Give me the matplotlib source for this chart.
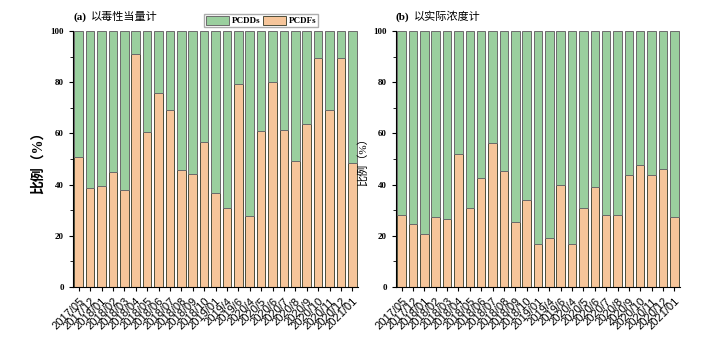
import numpy as np
import matplotlib.pyplot as plt
from matplotlib.ticker import MultipleLocator

# sampling months
dates = ['2017/05', '2017/12', '2018/01', '2018/02', '2018/03', '2018/04', '2018/05',
         '2018/06', '2018/07', '2018/08', '2018/09', '2018/10', '2019/01', '2019/4',
         '2019/6', '2020/4', '2020/5', '2020/6', '2020/7', '2020/8', '2020/9',
         '2020/10', '2020/11', '2020/12', '2021/01']

# PCDFs share (%), (a) by TEQ, (b) by actual concentration
pcdfs_teq = [50.8, 38.5, 39.3, 44.8, 38.0, 91.1, 60.7, 76.0, 69.1, 45.7, 44.1, 56.6, 36.6,
             30.7, 79.2, 27.6, 60.8, 80.1, 61.3, 49.1, 63.7, 89.3, 69.1, 89.3, 48.6]
pcdfs_conc = [28.0, 24.7, 20.8, 27.4, 26.6, 52.0, 30.7, 42.5, 56.1, 45.3, 25.5, 33.9, 16.9,
              19.1, 39.9, 16.6, 30.8, 39.0, 28.1, 28.3, 43.8, 47.8, 43.8, 46.0, 27.4]

green = '#9acf9e'
orange = '#f6c59a'
cjk = ['Liberation Serif', 'Noto Sans CJK SC']

fig = plt.figure(figsize=(7.09, 3.38), dpi=100)
ax_a = fig.add_axes([0.103, 0.151, 0.402, 0.757])
ax_b = fig.add_axes([0.5585, 0.151, 0.4006, 0.757])

x = np.arange(len(dates))
panels = [(ax_a, pcdfs_teq, '以毒性当量计', '(a)', True),
          (ax_b, pcdfs_conc, '以实际浓度计', '(b)', False)]

for ax, vals, title, tag, bold in panels:
    vals = np.array(vals)
    b1 = ax.bar(x, vals, 0.75, color=orange, edgecolor='#4d4d3a', linewidth=0.7, label='PCDFs')
    b2 = ax.bar(x, 100 - vals, 0.75, bottom=vals, color=green, edgecolor='#6b6b6b',
                linewidth=0.7, label='PCDDs')
    ax.set_xlim(-0.5, len(dates) - 0.5)
    ax.set_ylim(0, 100)
    ax.yaxis.set_major_locator(MultipleLocator(20))
    ax.yaxis.set_minor_locator(MultipleLocator(10))
    ax.spines['top'].set_visible(False)
    ax.spines['right'].set_visible(False)
    ax.tick_params(direction='out', length=3, width=0.8)
    ax.tick_params(which='minor', length=2)
    ax.set_xticks(x)
    ax.set_xticklabels(dates, rotation=45, ha='right', rotation_mode='anchor',
                       fontsize=8, family='Liberation Sans')
    for lab in ax.get_yticklabels():
        lab.set_family('Liberation Serif')
        lab.set_fontweight('bold')
        lab.set_fontsize(6.5)
    ax.text(0.0, 1.035, tag, transform=ax.transAxes, fontsize=8, fontweight='bold',
            family='Liberation Serif', va='bottom')
    ax.text(0.063, 1.035, title, transform=ax.transAxes, fontsize=8, family=cjk, va='bottom')
    if bold:
        ax.set_ylabel('比例（%）', fontsize=10, fontweight='bold', family=cjk)
    else:
        ax.set_ylabel('比例（%）', fontsize=8, family=cjk)
    ax.yaxis.set_label_coords(-0.1, 0.5)

handles = [b2, b1]
leg = ax_a.legend(handles, ['PCDDs', 'PCDFs'], loc='lower center', bbox_to_anchor=(0.66, 1.016),
                  ncol=2, frameon=True, fancybox=False, edgecolor='#999999',
                  prop={'family': 'Liberation Serif', 'weight': 'bold', 'size': 6.5},
                  handlelength=2.6, handleheight=1.2, columnspacing=0.2, handletextpad=0.3,
                  borderpad=0.2, borderaxespad=0)

plt.savefig('out.png', dpi=100)
